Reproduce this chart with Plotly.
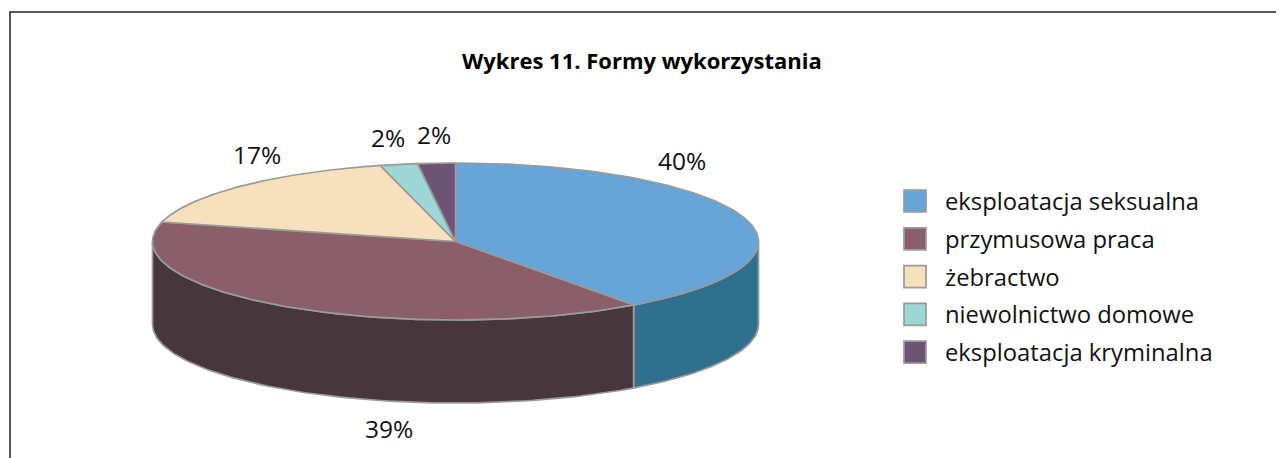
import numpy as np
import plotly.graph_objects as go

categories = ["eksploatacja seksualna", "przymusowa praca", "żebractwo",
              "niewolnictwo domowe", "eksploatacja kryminalna"]
values = [40, 39, 17, 2, 2]
top_colors = ["#67A5D9", "#8B5F69", "#F7E1BC", "#9CD7D5", "#6D5475"]
side_colors = ["#30708F", "#47373D", "#8F8068", "#5A7F7D", "#40314A"]
title_text = "Wykres 11. Formy wykorzystania"

W, H = 1284, 458
PAGE_MARGIN = 8
CX, CY, RX, RY, DEPTH = 455.5, 241.5, 303.0, 78.5, 83.0
EDGE = "#9A9A9A"
FONT = "Open Sans"
label_offsets = [(682, 160), (389, 428), (257, 154), (388, 137), (434, 134)]

fig = go.Figure()

def ex(t):
    return CX + RX * np.sin(np.radians(t))

def ey(t, d=0.0):
    return CY - RY * np.cos(np.radians(t)) + d

total = sum(values)
edges = np.concatenate([[0], np.cumsum(values) / total * 360])

# side walls (only the front half, 90..270 degrees, is visible)
for i in range(len(values)):
    a, b = max(edges[i], 90), min(edges[i + 1], 270)
    if b <= a:
        continue
    t = np.linspace(a, b, 120)
    xs = np.concatenate([ex(t), ex(t[::-1]), [ex(t[0])]])
    ys = np.concatenate([ey(t), ey(t[::-1], DEPTH), [ey(t[0])]])
    fig.add_trace(go.Scatter(x=xs, y=ys, mode="lines", fill="toself",
                             fillcolor=side_colors[i],
                             line=dict(color=EDGE, width=1.7),
                             hoverinfo="skip", showlegend=False))

# top faces
for i in range(len(values)):
    t = np.linspace(edges[i], edges[i + 1], 160)
    xs = np.concatenate([[CX], ex(t), [CX]])
    ys = np.concatenate([[CY], ey(t), [CY]])
    fig.add_trace(go.Scatter(x=xs, y=ys, mode="lines", fill="toself",
                             fillcolor=top_colors[i],
                             line=dict(color=EDGE, width=1.7),
                             name=categories[i], hoverinfo="skip", showlegend=False))

# value labels
for v, (lx, ly) in zip(values, label_offsets):
    fig.add_annotation(x=lx, y=ly, text=f"{v}%", showarrow=False,
                       font=dict(family=FONT, size=24.5, color="#111111"),
                       xanchor="center", yanchor="middle")

# legend
LEG_X0, LEG_X1, LEG_TEXT_X, LEG_Y0, LEG_STEP, LEG_S = 904, 926, 943, 201, 37.8, 22
for i, c in enumerate(categories):
    yc = LEG_Y0 + i * LEG_STEP
    fig.add_shape(type="rect", x0=LEG_X0, x1=LEG_X1, y0=yc - LEG_S / 2, y1=yc + LEG_S / 2,
                  fillcolor=top_colors[i], line=dict(color=EDGE, width=1.7))
    fig.add_annotation(x=LEG_TEXT_X, y=yc, text=c, showarrow=False,
                       font=dict(family=FONT, size=23.8, color="#111111"),
                       xanchor="left", yanchor="middle")

# title and frame (the frame runs off the right and bottom of the picture)
fig.add_annotation(x=642, y=60, text=f"<b>{title_text}</b>", showarrow=False,
                   font=dict(family=FONT, size=22, color="#000000"),
                   xanchor="center", yanchor="middle")
fig.add_shape(type="rect", x0=10, x1=1400, y0=12, y1=600,
              line=dict(color="#222222", width=1.5), fillcolor="rgba(0,0,0,0)")

fig.update_layout(width=W - PAGE_MARGIN, height=H - PAGE_MARGIN,
                  margin=dict(l=0, r=0, t=0, b=0),
                  paper_bgcolor="white", plot_bgcolor="white", showlegend=False,
                  xaxis=dict(range=[PAGE_MARGIN, W], visible=False, fixedrange=True),
                  yaxis=dict(range=[H, PAGE_MARGIN], visible=False, fixedrange=True))
fig.write_html("out.html", config=dict(displayModeBar=False))
